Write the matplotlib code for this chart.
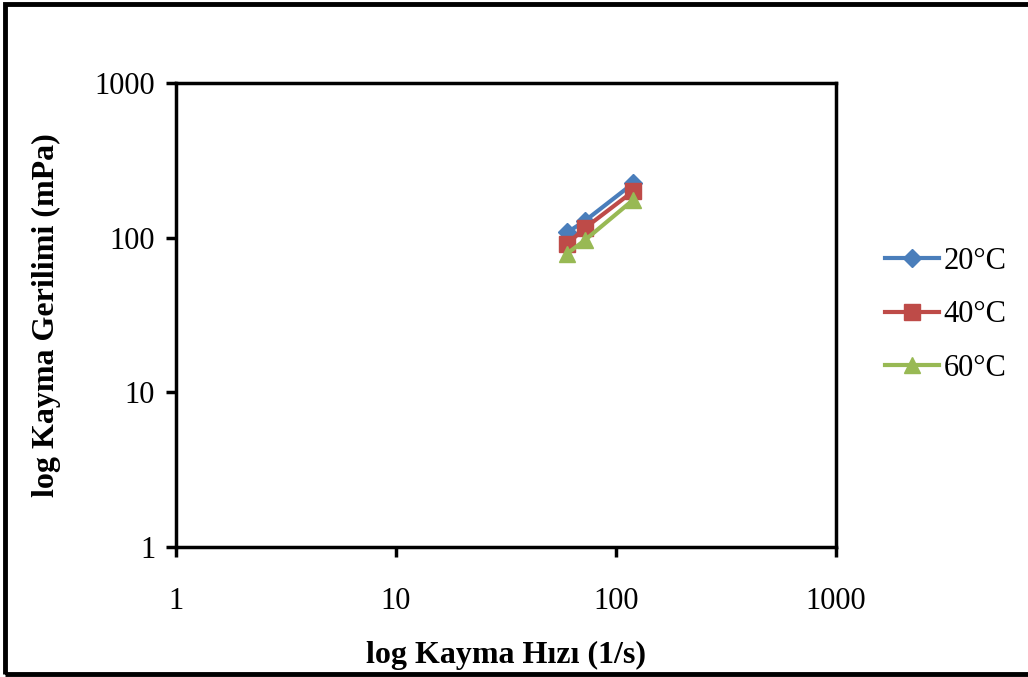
import matplotlib.pyplot as plt
from matplotlib.patches import Rectangle
from matplotlib.ticker import FixedLocator, NullLocator

plt.rcParams['font.family'] = ['Liberation Serif', 'DejaVu Serif']

# shear rate (1/s) and shear stress (mPa) at each temperature
shear_rate = [60, 72, 120]
stress_20 = [108, 128, 225]
stress_40 = [91, 115, 200]
stress_60 = [79, 96, 176]
labels = ['20°C', '40°C', '60°C']
colors = ['#4A7EBB', '#BE4B48', '#98B954']
markers = ['D', 's', '^']
sizes = [9, 11, 12]
ticks = [1, 10, 100, 1000]

fig = plt.figure(figsize=(10.28, 6.77), dpi=100)
ax = fig.add_axes([176 / 1028, 130 / 677, 660 / 1028, 464 / 677])

for ys, lab, c, m, s in zip([stress_20, stress_40, stress_60], labels, colors, markers, sizes):
    ax.plot(shear_rate, ys, color=c, lw=3, marker=m, ms=s, label=lab)

ax.set_xscale('log')
ax.set_yscale('log')
ax.set_xlim(1, 1000)
ax.set_ylim(1, 1000)
ax.xaxis.set_major_locator(FixedLocator(ticks))
ax.yaxis.set_major_locator(FixedLocator(ticks))
ax.xaxis.set_minor_locator(NullLocator())
ax.yaxis.set_minor_locator(NullLocator())
ax.set_xticklabels([str(t) for t in ticks])
ax.set_yticklabels([str(t) for t in ticks])
ax.tick_params(direction='out', length=7, width=2.5, labelsize=22)
ax.tick_params(axis='x', pad=22)
ax.tick_params(axis='y', pad=8)
for sp in ax.spines.values():
    sp.set_linewidth(2.5)

ax.set_xlabel('log Kayma Hızı (1/s)', fontsize=23, fontweight='bold', labelpad=18)
ax.set_ylabel('log Kayma Gerilimi (mPa)', fontsize=23, fontweight='bold', labelpad=24)

ax.legend(loc='center left', bbox_to_anchor=(1.032, 0.5), frameon=False,
          fontsize=22, handlelength=1.77, handletextpad=0.16, labelspacing=0.8)

# frame around the whole chart
fig.patches.append(Rectangle((5 / 1028, 3 / 677), 1.1, 670 / 677, transform=fig.transFigure,
                             fill=False, lw=3.5, edgecolor='black', zorder=10))

fig.savefig('out.png', dpi=100)
